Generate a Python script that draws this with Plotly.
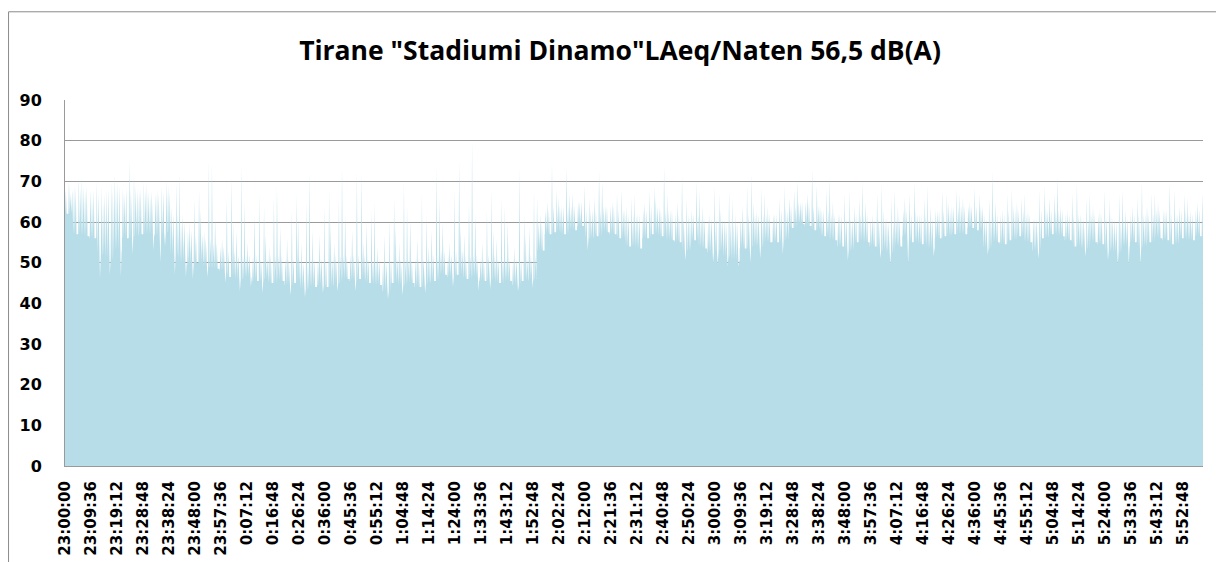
import plotly.graph_objects as go

# noise level, LAeq per second in 3-minute blocks (23:00 -> 06:00)
block_s = 180

# solid top of the area in each block
level_db = [62, 57, 56.5, 56, 52, 51, 53, 56, 56.5, 57, 57, 56.5, 57.5, 52,
            50, 49.5, 50, 49, 48.5, 48, 46.5, 46, 46.5, 45.5, 46, 45, 45.5, 44.5,
            45, 43.5, 44, 44.5, 44, 45, 46, 45.5, 46, 45, 44.5, 43, 45, 44.5,
            45, 44, 45, 45.5, 47, 46.5, 47, 46, 46.5, 45.5, 46, 45, 45.5, 44.5,
            45.5, 46, 53, 57, 57.5, 57, 58, 59, 56, 56.5, 57.5, 57, 56, 54,
            53.5, 56, 57, 56.5, 55.5, 55, 53, 55.5, 53.5, 52.5, 53, 51.5, 50.5, 53.5,
            54, 54, 55, 55, 55.5, 58.5, 59.5, 59, 58, 56.5, 55.5, 54, 53, 55,
            55, 54, 53, 52.5, 54, 56.5, 55, 54.5, 53.5, 56, 56.5, 57, 57, 58.5,
            58, 53.5, 55, 54.5, 55.5, 56.5, 55, 53, 56, 57, 56.5, 55.5, 54, 53.5,
            55, 54.5, 53, 52.5, 54, 55, 54, 55, 56, 55.5, 54.5, 56, 55.5, 56.5]

# lowest short drop in each block
dip_db = [62, 57, 56.5, 56, 46, 47, 46.5, 56, 52, 57, 53, 50, 54, 47,
          46.5, 46, 50, 46.5, 48.5, 45, 46.5, 43, 44, 45.5, 42.5, 45, 45.5, 42,
          45, 41.5, 44, 42.5, 44, 43, 46, 43, 46, 45, 44.5, 41, 45, 42,
          45, 44, 42.5, 45.5, 47, 44, 47, 46, 43, 45.5, 43.5, 45, 45.5, 43,
          45.5, 44, 53, 57, 57.5, 57, 58, 59, 53, 56.5, 57.5, 57, 56, 54,
          53.5, 56, 57, 56.5, 55.5, 55, 50.5, 55.5, 53.5, 50, 49.5, 49, 49, 53.5,
          50, 51, 55, 55, 52, 58.5, 59.5, 59, 58, 56.5, 55.5, 54, 50.5, 55,
          55, 54, 51, 49.5, 54, 49.5, 55, 54.5, 51.5, 56, 56.5, 57, 57, 58.5,
          58, 52, 55, 54.5, 55.5, 56.5, 55, 51, 56, 57, 56.5, 55.5, 54, 51.5,
          55, 54.5, 50.5, 49.5, 49.5, 55, 49.5, 55, 56, 55.5, 54.5, 56, 55.5, 56.5]

# tallest short peak in each block
peak_db = [70, 71, 71, 70, 69, 70, 72, 75.5, 72, 70, 69.5, 69, 70, 70,
           72, 66, 68, 75, 74, 66, 71, 74, 65, 67, 64, 66, 69, 63,
           67, 65, 72.5, 64, 68, 66, 73.5, 72.5, 72, 63, 65, 61, 66, 70,
           64, 67, 62, 73.5, 66, 68, 75, 65, 80, 63, 68, 66, 64, 73.5,
           62, 68, 66, 74.5, 68, 73.5, 67, 69, 66, 72.5, 70, 67, 68, 66,
           67, 68, 69, 73.5, 67, 71.5, 66, 70, 68, 69, 67, 68, 66, 69,
           72, 68.5, 67, 66, 69, 68, 70, 73, 69, 68, 71, 67, 68, 66,
           70, 67, 69.5, 66, 68, 67, 70, 66, 69, 68, 67, 68, 67, 68.5,
           67, 66, 72.5, 67, 68, 66, 67, 68, 69, 67, 71, 67, 69.5, 66,
           67, 68, 66, 67, 68, 66, 70, 67, 67, 69.5, 68, 67, 66, 67]

# medium peaks (the dense band above the solid area)
mid_db = [68, 68.5, 69, 68, 67, 68, 69, 68.5, 68, 68, 67.5, 67, 67.5, 62,
          60, 58, 57, 56, 55, 54, 53, 52, 52, 52, 51, 52, 52, 51,
          51, 50, 51, 51, 51, 52, 52, 52, 52, 51, 51, 50, 51, 51,
          51, 51, 51, 52, 53, 52, 53, 52, 52, 51, 52, 51, 51, 51,
          51, 52, 60, 63, 64, 64, 64, 65, 63, 63, 64, 64, 63, 62,
          62, 63, 64, 63, 63, 62, 61, 62, 61, 61, 61, 60, 60, 61,
          62, 62, 62, 62, 63, 64, 65, 65, 64, 63, 62, 62, 61, 62,
          62, 61, 61, 60, 61, 63, 62, 62, 61, 63, 63, 64, 64, 64,
          64, 61, 62, 62, 63, 63, 62, 61, 63, 63, 63, 62, 62, 61,
          62, 62, 61, 60, 61, 62, 62, 62, 63, 63, 62, 63, 62, 63]

spike_db = [67, 69, 68, 66, 65, 68, 70, 67, 69, 68, 66, 68, 69,
            64, 62, 60, 63, 58, 61,
            56, 60, 58, 55, 62, 57, 54, 59, 56, 61, 55, 58, 57, 60, 55, 62,
            58, 55, 60, 54, 57, 59, 55, 61, 56, 54, 58, 60, 55, 59, 57, 62, 55,
            58, 56, 60, 54, 57, 59,
            62, 65, 66, 64, 67, 65, 63, 66, 64, 65, 63, 64,
            62, 65, 66, 64, 63, 65, 62, 63, 64, 62, 63, 61, 62, 64,
            65, 63, 64, 62, 64, 66, 65, 67, 64, 63, 65, 62, 61, 64,
            65, 62, 63, 61, 64, 66, 63, 62, 64, 63, 65, 64, 66, 65,
            64, 62, 65, 63, 64, 65, 63, 61, 64, 66, 64, 63, 62, 61,
            64, 63, 62, 61, 63, 64, 62, 64, 65, 63, 62, 64, 63, 65]

tick_labels = ['23:00:00', '23:09:36', '23:19:12', '23:28:48', '23:38:24', '23:48:00',
               '23:57:36', '0:07:12', '0:16:48', '0:26:24', '0:36:00', '0:45:36',
               '0:55:12', '1:04:48', '1:14:24', '1:24:00', '1:33:36', '1:43:12',
               '1:52:48', '2:02:24', '2:12:00', '2:21:36', '2:31:12', '2:40:48',
               '2:50:24', '3:00:00', '3:09:36', '3:19:12', '3:28:48', '3:38:24',
               '3:48:00', '3:57:36', '4:07:12', '4:16:48', '4:26:24', '4:36:00',
               '4:45:36', '4:55:12', '5:04:48', '5:14:24', '5:24:00', '5:33:36',
               '5:43:12', '5:52:48']
tick_step_s = 576

FILL = '#b7dde8'

# where, inside a block, each short event sits (seconds from block start),
# rotated so the peaks do not line up into a regular comb
layouts = [
    (('mid', 2), ('dip', 38), ('peak', 74), ('spike', 106), ('mid', 142)),
    (('spike', 4), ('mid', 40), ('dip', 76), ('peak', 112), ('mid', 144)),
    (('peak', 0), ('mid', 32), ('spike', 68), ('mid', 104), ('dip', 140)),
    (('mid', 6), ('spike', 42), ('mid', 78), ('dip', 114), ('peak', 150)),
]
series = {'mid': mid_db, 'dip': dip_db, 'peak': peak_db, 'spike': spike_db}
widths = {'mid': 34, 'spike': 32, 'peak': 28, 'dip': 34}

xs, ys = [], []
for i, lv in enumerate(level_db):
    t0 = i * block_s
    xs.append(t0)
    ys.append(lv)
    for kind, off in layouts[i % len(layouts)]:
        w = widths[kind]
        xs += [t0 + off, t0 + off + w / 2, t0 + off + w]
        ys += [lv, series[kind][i], lv]
    xs.append(t0 + block_s - 1)
    ys.append(lv)

fig = go.Figure()
fig.add_trace(go.Scatter(x=xs, y=ys, mode='lines', fill='tozeroy',
                         fillcolor=FILL, line=dict(width=0, color=FILL),
                         name='LAeq', showlegend=False))

fig.update_xaxes(range=[0, len(level_db) * block_s],
                 tickvals=[k * tick_step_s for k in range(len(tick_labels))],
                 ticktext=tick_labels, tickangle=-90, showgrid=False,
                 showline=True, linecolor='#9a9a9a', linewidth=1, ticks='',
                 ticklabelstandoff=8, automargin=False,
                 tickfont=dict(family='DejaVu Sans', size=15, color='black', weight='bold'))
fig.update_yaxes(range=[0, 90], dtick=10, showgrid=True, gridcolor='#9a9a9a',
                 gridwidth=1, showline=True, linecolor='#9a9a9a', linewidth=1,
                 zeroline=False, ticks='', ticklabelstandoff=19, automargin=False,
                 tickfont=dict(family='DejaVu Sans', size=16, color='black', weight='bold'))

# outer chart frame
fig.add_shape(type='rect', xref='paper', yref='paper', x0=-0.0496, x1=1.0123,
              y0=-0.4, y1=1.241, line=dict(color='#8a8a8a', width=1), layer='below')

# page body adds an 8 px margin, so the figure is 8 px smaller than the window
fig.update_layout(
    width=1216, height=554,
    margin=dict(l=57, r=21, t=92, b=96),
    title=dict(text='Tirane "Stadiumi Dinamo"LAeq/Naten 56,5 dB(A)',
               x=0.5033, xanchor='center', y=0.9224, yanchor='middle',
               font=dict(family='Open Sans', size=26.5, color='black', weight='bold')),
    plot_bgcolor='white', paper_bgcolor='white')

fig.write_html('out.html')
